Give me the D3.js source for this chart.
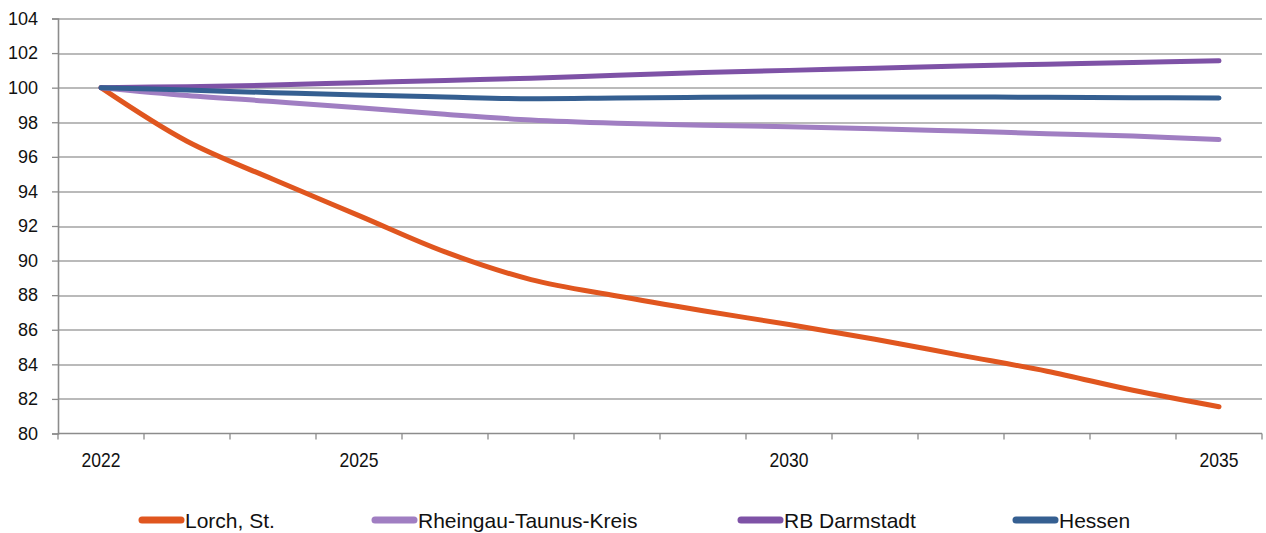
<!DOCTYPE html>
<html>
<head>
<meta charset="utf-8">
<script src="https://cdn.jsdelivr.net/npm/d3@7"></script>
<style>
  body { margin: 0; background: #fff; }
  svg { display: block; font-family: "Liberation Sans", Arial, sans-serif; }
</style>
</head>
<body>
<div id="chart"></div>
<script>
// data (index, 2022 = 100)
var years = [2022, 2023, 2024, 2025, 2026, 2027, 2028, 2029, 2030, 2031, 2032, 2033, 2034, 2035];
var xLabels = [2022, 2025, 2030, 2035];
var yTicks = [80, 82, 84, 86, 88, 90, 92, 94, 96, 98, 100, 102, 104];

var seriesNames = ['Lorch, St.', 'Rheingau-Taunus-Kreis', 'RB Darmstadt', 'Hessen'];
var lorch     = [100, 96.9, 94.7, 92.6, 90.5, 88.9, 87.95, 87.1, 86.3, 85.45, 84.52, 83.6, 82.5, 81.55];
var rheingau  = [100, 99.55, 99.2, 98.84, 98.46, 98.13, 97.94, 97.82, 97.74, 97.63, 97.49, 97.34, 97.2, 97.0];
var darmstadt = [100, 100.06, 100.15, 100.29, 100.42, 100.55, 100.72, 100.87, 101.0, 101.12, 101.25, 101.36, 101.46, 101.55];
var hessen    = [100, 99.86, 99.71, 99.57, 99.46, 99.36, 99.4, 99.44, 99.46, 99.46, 99.46, 99.44, 99.42, 99.4];

var colors = ['#e0561f', '#a07ec2', '#7e52a6', '#355f91'];

var svgSize = {
    width: 1266,
    height: 533,
    margin: {top: 18.5, right: 4, bottom: 99.5, left: 58}
};

var svg = d3.select('#chart').append('svg')
    .attr('width', svgSize.width)
    .attr('height', svgSize.height);

var width = svgSize.width - svgSize.margin.left - svgSize.margin.right;
var height = svgSize.height - svgSize.margin.top - svgSize.margin.bottom;

var g = svg.append('g')
    .attr('transform', 'translate(' + svgSize.margin.left + ',' + svgSize.margin.top + ')');

var x = d3.scaleBand().domain(years).range([0, width]);
var y = d3.scaleLinear().domain([80, 104]).range([height, 0]);

function cx(yr) { return x(yr) + x.bandwidth() / 2; }

// gridlines
g.append('g').selectAll('line')
    .data(yTicks.filter(function(d) { return d > 80; }))
    .enter().append('line')
    .attr('x1', 0).attr('x2', width)
    .attr('y1', function(d) { return Math.round(y(d)) + 0.5; })
    .attr('y2', function(d) { return Math.round(y(d)) + 0.5; })
    .attr('stroke', '#a3a3a3')
    .attr('stroke-width', 1.3);

// y axis
var yAxis = g.append('g')
    .call(d3.axisLeft(y).tickValues(yTicks).tickSize(6).tickPadding(14).tickFormat(d3.format('d')));
yAxis.select('.domain').attr('stroke', '#8c8c8c').attr('stroke-width', 1.6);
yAxis.selectAll('.tick line').attr('stroke', '#8c8c8c').attr('stroke-width', 1.3);
yAxis.selectAll('.tick text')
    .attr('fill', '#111')
    .style('font-size', '18px')
    .style('font-family', '"Liberation Sans", Arial, sans-serif');

// x axis: ticks on the category borders
var xAxis = g.append('g').attr('transform', 'translate(0,' + height + ')');
xAxis.append('line')
    .attr('x1', 0).attr('x2', width)
    .attr('stroke', '#8c8c8c').attr('stroke-width', 1.6);
xAxis.selectAll('line.tk')
    .data(years.map(function(d) { return x(d); }).concat([width]))
    .enter().append('line')
    .attr('class', 'tk')
    .attr('x1', function(d) { return d; }).attr('x2', function(d) { return d; })
    .attr('y1', 0).attr('y2', 6)
    .attr('stroke', '#8c8c8c').attr('stroke-width', 1.3);
xAxis.selectAll('text')
    .data(xLabels)
    .enter().append('text')
    .attr('x', function(d) { return cx(d) - 19.5; })
    .attr('y', 33)
    .attr('textLength', 39)
    .attr('lengthAdjust', 'spacingAndGlyphs')
    .attr('fill', '#111')
    .style('font-size', '21px')
    .text(function(d) { return d; });

// lines
var line = d3.line()
    .x(function(d, i) { return cx(years[i]); })
    .y(function(d) { return y(d); })
    .curve(d3.curveCatmullRom.alpha(0.5));

var allSeries = [lorch, rheingau, darmstadt, hessen];
g.append('g').attr('id', 'lines').selectAll('path')
    .data(allSeries)
    .enter().append('path')
    .attr('fill', 'none')
    .attr('stroke', function(d, i) { return colors[i]; })
    .attr('stroke-width', 5)
    .attr('stroke-linejoin', 'round')
    .attr('stroke-linecap', 'round')
    .attr('d', line);

// legend
var legendX = [140, 373, 739, 1014];
var legend = svg.append('g').attr('id', 'legend');
var item = legend.selectAll('g')
    .data(seriesNames)
    .enter().append('g')
    .attr('transform', function(d, i) { return 'translate(' + legendX[i] + ',520)'; });
item.append('line')
    .attr('x1', 2).attr('x2', 41)
    .attr('stroke', function(d, i) { return colors[i]; })
    .attr('stroke-width', 7)
    .attr('stroke-linecap', 'round');
item.append('text')
    .attr('x', 45)
    .attr('y', 7.5)
    .attr('fill', '#111')
    .style('font-size', '21px')
    .text(function(d) { return d; });
</script>
</body>
</html>
